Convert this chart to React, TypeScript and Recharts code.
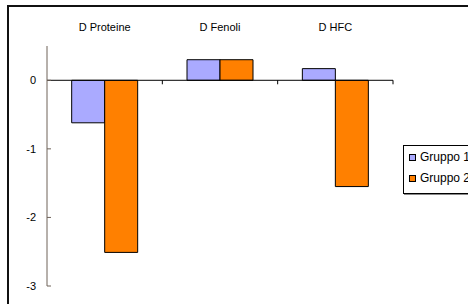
import React from "react";
import { BarChart, Bar, XAxis, YAxis, ReferenceLine } from "recharts";

const categories = ["D Proteine", "D Fenoli", "D HFC"];
const gruppo1 = [-0.62, 0.3, 0.17];
const gruppo2 = [-2.51, 0.3, -1.55];
const yTicks = [0, -1, -2, -3];
const seriesNames = ["Gruppo 1", "Gruppo 2"];
const colors = ["#aaaaff", "#ff8000"];

const data = categories.map((c, i) => ({ name: c, g1: gruppo1[i], g2: gruppo2[i] }));

const FONT = "'Liberation Sans', Arial, sans-serif";
const AXIS_COLOR = "#6e6259";

const YTick = (props: any) => {
  const { x, y, payload } = props;
  return (
    <g>
      <text x={x} y={y} dy={4} textAnchor="end" fontFamily={FONT} fontSize={11} fill="#000">
        {payload.value}
      </text>
      <line x1={x + 11} x2={x + 15} y1={y} y2={y} stroke={AXIS_COLOR} strokeWidth={1} />
    </g>
  );
};

const ZeroLine = (props: any) => {
  const { x1, x2, y1, viewBox } = props;
  const left = viewBox ? viewBox.x : x1;
  const w = viewBox ? viewBox.width : x2 - x1;
  const n = categories.length;
  const ticks = [];
  for (let i = 1; i <= n; i++) {
    const tx = left + (w * i) / n;
    ticks.push(<line key={i} x1={tx} x2={tx} y1={y1} y2={y1 + 4} stroke="#000" strokeWidth={1} />);
  }
  return (
    <g>
      <line x1={x1} x2={x2} y1={y1} y2={y1} stroke="#000" strokeWidth={1} />
      {ticks}
    </g>
  );
};

const LegendBox = () => (
  <div
    style={{
      position: "absolute",
      left: 403,
      top: 145,
      border: "1px solid #000",
      boxShadow: "1px 1px 0 #888",
      background: "#fff",
      padding: "1px 4px 4px 5px",
      width: 90,
      fontFamily: FONT,
      fontSize: 12,
      lineHeight: "21px",
      color: "#000",
    }}
  >
    {seriesNames.map((s, i) => (
      <div key={s} style={{ display: "flex", alignItems: "center" }}>
        <span
          style={{
            display: "inline-block",
            width: 5,
            height: 5,
            background: colors[i],
            border: "1px solid #000",
            marginRight: 4,
          }}
        />
        {s}
      </div>
    ))}
  </div>
);

export default function App() {
  return (
    <div
      style={{
        position: "fixed",
        left: 0,
        top: 0,
        width: 468,
        height: 304,
        overflow: "hidden",
        background: "#fff",
      }}
    >
      <div
        style={{
          position: "absolute",
          left: 7,
          top: 5,
          width: 600,
          height: 400,
          borderLeft: "2px solid #111",
          borderTop: "2px solid #111",
        }}
      />
      <div style={{ position: "absolute", left: 0, top: 0 }}>
        <BarChart
          width={468}
          height={304}
          data={data}
          margin={{ top: 6, right: 75, bottom: 18, left: 0 }}
          barCategoryGap="21.4%"
          barGap={0}
        >
          <XAxis
            dataKey="name"
            orientation="top"
            height={40}
            axisLine={false}
            tickLine={false}
            tickSize={0}
            tickMargin={15}
            tick={{ fontFamily: FONT, fontSize: 11, fill: "#000" }}
            interval={0}
          />
          <YAxis
            width={47}
            domain={[-3, 0.5]}
            ticks={yTicks}
            allowDataOverflow
            axisLine={{ stroke: AXIS_COLOR }}
            tickLine={false}
            tickSize={0}
            tickMargin={11}
            tick={<YTick />}
          />
          <Bar dataKey="g1" name={seriesNames[0]} fill={colors[0]} stroke="#000" strokeWidth={1} isAnimationActive={false} />
          <Bar dataKey="g2" name={seriesNames[1]} fill={colors[1]} stroke="#000" strokeWidth={1} isAnimationActive={false} />
          <ReferenceLine y={0} shape={<ZeroLine />} ifOverflow="visible" />
        </BarChart>
      </div>
      <LegendBox />
    </div>
  );
}
